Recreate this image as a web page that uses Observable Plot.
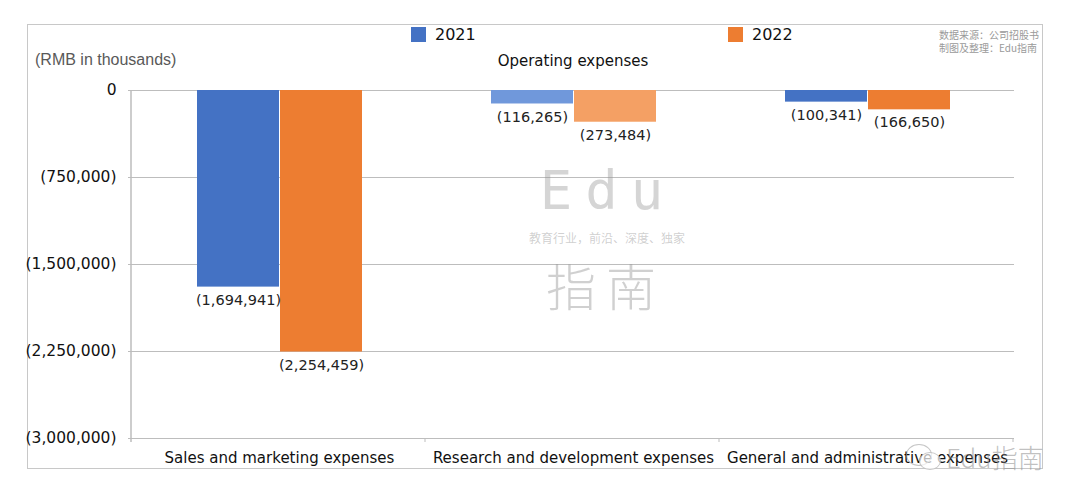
<!DOCTYPE html>
<html>
<head>
<meta charset="utf-8">
<script src="https://cdn.jsdelivr.net/npm/d3@7"></script>
<script src="https://cdn.jsdelivr.net/npm/@observablehq/plot@0.6"></script>
<style>
  html, body { margin: 0; padding: 0; background: #fff; }
  #wrap { position: relative; width: 1080px; height: 500px; overflow: hidden; font-family: "DejaVu Sans", sans-serif; }
  #border { position: absolute; left: 27px; top: 24px; width: 1016px; height: 445px; border: 1.5px solid #c8c8c8; box-sizing: border-box; }
  #chart { position: absolute; left: 0; top: 0; }
  .abs { position: absolute; white-space: nowrap; }
  .sw { position: absolute; width: 15px; height: 15px; }
</style>
</head>
<body>
<div id="wrap">
  <div id="border"></div>
  <div id="chart"></div>
  <div class="sw" style="left:411px;top:27px;background:#4472c4"></div>
  <div class="abs" style="left:435px;top:25px;font-size:16px;color:#111">2021</div>
  <div class="sw" style="left:728px;top:27px;background:#ed7d31"></div>
  <div class="abs" style="left:752px;top:25px;font-size:16px;color:#111">2022</div>
  <div class="abs" style="left:35px;top:51px;font-family:'Liberation Sans',Arial,sans-serif;font-size:16px;color:#595959">(RMB in thousands)</div>
  <div class="abs" style="left:573px;top:52px;transform:translateX(-50%);font-size:15px;color:#111">Operating expenses</div>
  <div class="abs" style="left:939px;top:28px;font-family:'Noto Sans CJK SC',sans-serif;font-size:10px;line-height:13px;color:#9a9a9a">数据来源：公司招股书<br>制图及整理：Edu指南</div>
  <!-- watermark -->
  <div class="abs" style="left:608px;top:159px;transform:translateX(-50%);font-family:'DejaVu Sans Mono',monospace;font-size:54px;letter-spacing:13px;color:rgba(150,150,150,0.4)">Edu</div>
  <div class="abs" style="left:607px;top:229px;transform:translateX(-50%);font-family:'Noto Sans CJK SC',sans-serif;font-size:12px;color:rgba(150,150,150,0.45)">教育行业，前沿、深度、独家</div>
  <div class="abs" style="left:606px;top:248px;transform:translateX(-50%);font-family:'Noto Sans CJK SC',sans-serif;font-size:50px;font-weight:300;letter-spacing:10px;color:rgba(150,150,150,0.45)">指南</div>
  <div class="abs" style="left:946px;top:438px;font-family:'Noto Sans CJK SC',sans-serif;font-size:26px;font-weight:300;color:rgba(140,140,140,0.55)">Edu指南</div>
  <div class="abs" style="left:906px;top:444px;width:24px;height:20px;border:1.5px solid rgba(160,160,160,0.6);border-radius:50%"></div>
  <div class="abs" style="left:919px;top:452px;width:20px;height:16px;border:1.5px solid rgba(160,160,160,0.6);border-radius:50%;background:rgba(255,255,255,0.7)"></div>
</div>
<script>
const categories = ["Sales and marketing expenses", "Research and development expenses", "General and administrative expenses"];
const years = ["2021", "2022"];
const values2021 = [-1694941, -116265, -100341];
const values2022 = [-2254459, -273484, -166650];
const yTicks = [0, -750000, -1500000, -2250000, -3000000];

const rows = [];
categories.forEach((c, i) => {
  rows.push({cat: c, year: years[0], value: values2021[i]});
  rows.push({cat: c, year: years[1], value: values2022[i]});
});

const fmt = v => v === 0 ? "0" : "(" + d3.format(",")(Math.abs(v)) + ")";
const fillOf = d => {
  const light = d.cat === categories[1];
  if (d.year === years[0]) return light ? "#7098db" : "#4472c4";
  return light ? "#f4a064" : "#ed7d31";
};

const plot = Plot.plot({
  width: 1080,
  height: 500,
  marginLeft: 131,
  marginRight: 66,
  marginTop: 90,
  marginBottom: 62,
  style: {fontFamily: "DejaVu Sans, sans-serif", fontSize: "15px", color: "#111", background: "transparent"},
  fx: {domain: categories, padding: 0, axis: null, label: null},
  x: {domain: years, paddingInner: 0.015, paddingOuter: 0.76, axis: null},
  y: {domain: [-3000000, 0], axis: null},
  marks: [
    Plot.gridY(yTicks, {stroke: "#bdbdbd", strokeOpacity: 1, strokeWidth: 1}),
    Plot.axisY(yTicks, {tickFormat: fmt, tickSize: 4, tickPadding: 12, stroke: "#bdbdbd", fill: "#111", fontSize: 15.5, label: null}),
    Plot.barY(rows, {fx: "cat", x: "year", y: "value", fill: fillOf}),
    Plot.text(rows, {fx: "cat", x: "year", y: "value", text: d => fmt(d.value), dy: 13, lineAnchor: "middle", fontSize: 14.5, fill: "#222"}),
    Plot.axisFx({anchor: "bottom", tickSize: 0, tickPadding: 14, fontSize: 15, label: null, fill: "#111"})
  ]
});

document.getElementById("chart").appendChild(plot);

// y axis line and category separator ticks, derived from the plot's scales
const svg = d3.select(plot);
const fxs = plot.scale("fx");
const ys = plot.scale("y");
const y0 = ys.apply(0), y1 = ys.apply(-3000000);
svg.append("line").attr("x1", fxs.range[0]).attr("x2", fxs.range[0]).attr("y1", y0).attr("y2", y1 + 4)
  .attr("stroke", "#bdbdbd").attr("stroke-width", 1.5);
for (let i = 1; i <= categories.length; i++) {
  const x = fxs.range[0] + i * fxs.step;
  svg.append("line").attr("x1", x).attr("x2", x).attr("y1", y1).attr("y2", y1 + 4)
    .attr("stroke", "#bdbdbd").attr("stroke-width", 1);
}
</script>
</body>
</html>
